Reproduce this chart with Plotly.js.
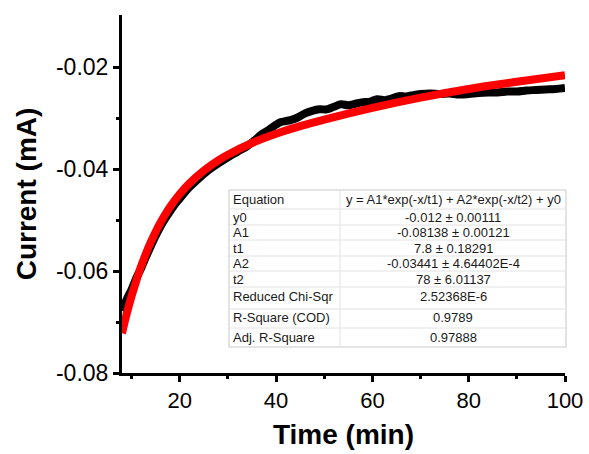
<!DOCTYPE html>
<html>
<head>
<meta charset="utf-8">
<script src="https://cdn.plot.ly/plotly-3.0.1.min.js"></script>
<style>html,body{margin:0;padding:0;background:#fff;}#chart{width:589px;height:454px;}</style>
</head>
<body>
<div id="chart"></div>
<script>
// Measured current (black trace)
const dataTime = [8, 9, 10, 11, 12, 13, 14, 15, 16, 17, 18, 19, 20, 22, 24, 26, 28, 30, 32, 34, 35.5, 37, 38.5, 40, 41, 42, 43, 44.5, 46, 47.5, 49, 50.5, 52, 53.5, 55, 56.5, 58, 59.5, 61, 62.5, 64, 65.5, 67, 68.5, 70, 72, 74, 76, 78, 80, 82, 84, 86, 88, 90, 92, 94, 96, 98, 100];
const dataCurrent = [-0.0678, -0.0655, -0.0636, -0.0613, -0.0594, -0.0572, -0.0551, -0.0531, -0.0513, -0.0497, -0.0483, -0.0469, -0.0458, -0.0436, -0.0418, -0.0402, -0.0389, -0.0377, -0.0366, -0.0355, -0.0344, -0.0332, -0.0323, -0.0313, -0.0308, -0.0306, -0.0304, -0.0299, -0.0291, -0.0286, -0.0283, -0.0283, -0.0278, -0.0273, -0.0275, -0.0272, -0.0269, -0.0268, -0.0263, -0.0265, -0.0262, -0.0257, -0.0258, -0.0255, -0.0253, -0.0252, -0.0253, -0.0252, -0.0254, -0.0253, -0.0251, -0.0250, -0.0250, -0.0248, -0.0248, -0.0246, -0.0245, -0.0244, -0.0243, -0.0241];

// Fitted curve (red trace)
const fitTime = [8, 9, 10, 11, 12, 13, 14, 15, 16, 18, 20, 22, 25, 28, 30, 35, 40, 45, 50, 60, 70, 80, 90, 100];
const fitCurrent = [-0.0722, -0.0683, -0.0649, -0.0618, -0.0590, -0.0565, -0.0543, -0.0523, -0.0505, -0.0474, -0.0449, -0.0428, -0.0403, -0.0383, -0.0372, -0.0349, -0.0331, -0.0316, -0.0303, -0.0280, -0.0260, -0.0243, -0.0229, -0.0216];

// Axis ticks
const xTickVals = [20, 40, 60, 80, 100];
const xTickText = ['20', '40', '60', '80', '100'];
const xMinorVals = [10, 30, 50, 70, 90];
const yTickVals = [-0.08, -0.06, -0.04, -0.02];
const yTickText = ['-0.08', '-0.06', '-0.04', '-0.02'];
const yMinorVals = [-0.07, -0.05, -0.03];

// Fit results table
const tableLabels = ['Equation', 'y0', 'A1', 't1', 'A2', 't2', 'Reduced Chi-Sqr', 'R-Square (COD)', 'Adj. R-Square'];
const tableValues = ['y = A1*exp(-x/t1) + A2*exp(-x/t2) + y0', '-0.012 ± 0.00111', '-0.08138 ± 0.00121', '7.8 ± 0.18291', '-0.03441 ± 4.64402E-4', '78 ± 6.01137', '2.52368E-6', '0.9789', '0.97888'];

const W = 589, H = 454;
const M = {l: 122, r: 24, t: 15, b: 81};
const PW = W - M.l - M.r, PH = H - M.t - M.b;
const px2x = p => (p - M.l) / PW;
const py2y = p => (H - M.b - p) / PH;

// table geometry in pixels
const tLeft = 229, tRight = 566, tDiv = 340;
const rowEdges = [190, 209, 225, 240, 256, 271, 287, 309, 328, 347];
const rowTextOffset = [0, 0, 0, 0, 0, 0, -2, -1, 0];

const shapes = [];
const annotations = [];
const tfont = {family: 'Arial, Liberation Sans, sans-serif', size: 13, color: '#1a1a1a'};
shapes.push({type: 'rect', xref: 'paper', yref: 'paper', x0: px2x(tLeft), x1: px2x(tRight), y0: py2y(rowEdges[rowEdges.length-1]), y1: py2y(rowEdges[0]), fillcolor: '#ffffff', line: {color: '#c8c8c8', width: 1}, layer: 'above'});
for (let i = 1; i < rowEdges.length - 1; i++) {
  shapes.push({type: 'line', xref: 'paper', yref: 'paper', x0: px2x(tLeft), x1: px2x(tRight), y0: py2y(rowEdges[i]), y1: py2y(rowEdges[i]), line: {color: '#e2e2e2', width: 1}, layer: 'above'});
}
shapes.push({type: 'line', xref: 'paper', yref: 'paper', x0: px2x(tDiv), x1: px2x(tDiv), y0: py2y(rowEdges[rowEdges.length-1]), y1: py2y(rowEdges[0]), line: {color: '#e2e2e2', width: 1}, layer: 'above'});
for (let i = 0; i < tableLabels.length; i++) {
  const yc = (rowEdges[i] + rowEdges[i+1]) / 2 + rowTextOffset[i];
  annotations.push({xref: 'paper', yref: 'paper', x: px2x(tLeft + 2), y: py2y(yc), xanchor: 'left', yanchor: 'middle', text: tableLabels[i], showarrow: false, font: tfont});
  annotations.push({xref: 'paper', yref: 'paper', x: px2x((tDiv + tRight) / 2), y: py2y(yc), xanchor: 'center', yanchor: 'middle', text: tableValues[i], showarrow: false, font: tfont});
}

const traces = [
  {x: dataTime, y: dataCurrent, type: 'scatter', mode: 'lines', line: {color: '#000000', width: 8, shape: 'spline', smoothing: 1}, hoverinfo: 'skip', showlegend: false},
  {x: fitTime, y: fitCurrent, type: 'scatter', mode: 'lines', line: {color: '#ff0000', width: 8, shape: 'spline'}, hoverinfo: 'skip', showlegend: false}
];

const font = {family: 'Arial, Liberation Sans, sans-serif', color: '#000'};
const layout = {
  width: W, height: H,
  margin: M,
  paper_bgcolor: '#fff', plot_bgcolor: '#fff',
  showlegend: false,
  font: font,
  xaxis: {
    range: [8, 100], tickmode: 'array', tickvals: xTickVals, ticktext: xTickText,
    showgrid: false, zeroline: false, showline: true, linecolor: '#000', linewidth: 3,
    ticks: 'outside', ticklen: 6, tickwidth: 3, tickcolor: '#000',
    tickfont: {family: font.family, size: 22, color: '#000'},
    minor: {tickvals: xMinorVals, ticks: 'outside', ticklen: 3, tickwidth: 3, tickcolor: '#000', showgrid: false},
    title: {text: '<b>Time (min)</b>', font: {family: font.family, size: 28, color: '#000'}, standoff: 12}
  },
  yaxis: {
    range: [-0.08, -0.0098], tickmode: 'array', tickvals: yTickVals, ticktext: yTickText,
    showgrid: false, zeroline: false, showline: true, linecolor: '#000', linewidth: 3,
    ticks: 'outside', ticklen: 6, tickwidth: 3, tickcolor: '#000',
    tickfont: {family: font.family, size: 23, color: '#000'},
    minor: {tickvals: yMinorVals, ticks: 'outside', ticklen: 3, tickwidth: 3, tickcolor: '#000', showgrid: false},
    title: {text: '<b>Current (mA)</b>', font: {family: font.family, size: 28, color: '#000'}, standoff: 12}
  },
  shapes: shapes,
  annotations: annotations
};
Plotly.newPlot('chart', traces, layout, {staticPlot: true, displayModeBar: false});
</script>
</body>
</html>
